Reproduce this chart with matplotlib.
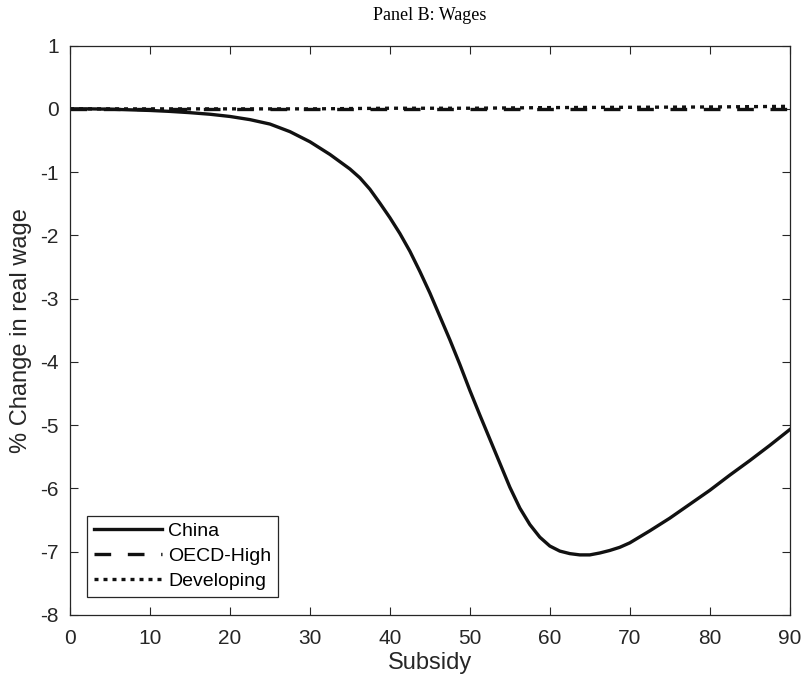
import numpy as np
import matplotlib.pyplot as plt

# China: subsidy grid and % change in real wage
subsidy = [0, 2.5, 5, 7.5, 10, 12.5, 15, 17.5, 20, 22.5, 25, 27.5, 30, 32.5,
           35, 36.25, 37.5, 38.75, 40, 41.25, 42.5, 43.75, 45, 46.25, 47.5,
           48.75, 50, 51.25, 52.5, 53.75, 55, 56.25, 57.5, 58.75, 60, 61.25,
           62.5, 63.75, 65, 66.25, 67.5, 68.75, 70, 72.5, 75, 77.5, 80, 82.5,
           85, 87.5, 90]
china = [0.0, 0.0, -0.005, -0.015, -0.025, -0.04, -0.06, -0.085, -0.12, -0.17,
         -0.24, -0.36, -0.52, -0.72, -0.95, -1.09, -1.27, -1.49, -1.72, -1.97,
         -2.25, -2.57, -2.91, -3.28, -3.65, -4.04, -4.45, -4.84, -5.22, -5.60,
         -5.98, -6.31, -6.57, -6.77, -6.91, -6.99, -7.03, -7.05, -7.05, -7.02,
         -6.98, -6.93, -6.86, -6.67, -6.47, -6.25, -6.03, -5.79, -5.56, -5.32,
         -5.07]

# the two other regions barely move
subsidy_other = [0, 10, 20, 30, 40, 50, 60, 70, 80, 90]
oecd_high = [0.0, 0.0, 0.0, 0.0, 0.0, 0.0, 0.0, 0.0, 0.0, 0.0]
developing = [0.0, 0.0, 0.0, 0.0, 0.01, 0.01, 0.02, 0.025, 0.03, 0.04]

plt.rcParams['font.family'] = ['Liberation Sans', 'DejaVu Sans']
plt.rcParams['axes.unicode_minus'] = False

fig = plt.figure(figsize=(8.05, 6.91), dpi=100)
ax = fig.add_axes([0.087, 0.110, 0.894, 0.824])

ax.plot(subsidy, china, color='#111111', lw=2.4, ls='-', label='China')
ax.plot(subsidy_other, oecd_high, color='#111111', lw=2.4, ls=(0, (5, 5)),
        label='OECD-High')
ax.plot(subsidy_other, developing, color='#111111', lw=2.4, ls=(0, (1.2, 1.5)),
        label='Developing')

ax.set_xlim(0, 90)
ax.set_ylim(-8, 1)
ax.set_xticks(np.arange(0, 91, 10))
ax.set_yticks(np.arange(-8, 2, 1))
ax.tick_params(direction='in', top=True, right=True, length=6, width=0.8,
               labelsize=15, colors='#262626')
ax.tick_params(axis='x', pad=10)
ax.tick_params(axis='y', pad=8)
for s in ax.spines.values():
    s.set_linewidth(0.9)
    s.set_color('#262626')

ax.set_xlabel('Subsidy', fontsize=17, color='#262626', labelpad=3)
ax.set_ylabel('% Change in real wage', fontsize=17, color='#262626', labelpad=6)

fig.text(0.534, 0.978, 'Panel B: Wages', ha='center', va='center',
         fontsize=13, family='Liberation Serif')

leg = ax.legend(loc='lower left', bbox_to_anchor=(0.024, 0.032), borderaxespad=0,
                fontsize=14, handlelength=3.5, handletextpad=0.3, labelspacing=0.38,
                fancybox=False, framealpha=1, edgecolor='#262626', borderpad=0.35)
leg.get_frame().set_linewidth(0.9)

fig.savefig('out.png', dpi=100)
